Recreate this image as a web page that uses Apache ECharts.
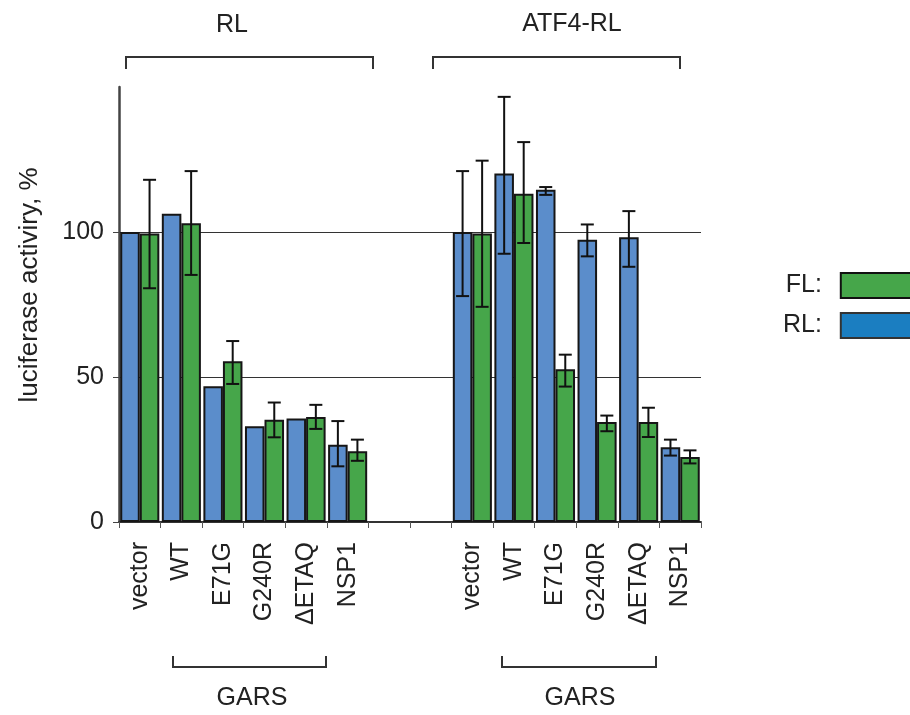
<!DOCTYPE html>
<html>
<head>
<meta charset="utf-8">
<script src="https://cdn.jsdelivr.net/npm/echarts@6/dist/echarts.min.js"></script>
<style>html,body{margin:0;padding:0;background:#fff;}#c{width:910px;height:715px;}</style>
</head>
<body>
<div id="c"></div>
<script>
// categories (two gap slots between the RL and ATF4-RL groups)
const categories = ['vector','WT','E71G','G240R','ΔETAQ','NSP1','','','vector','WT','E71G','G240R','ΔETAQ','NSP1'];
// mean values, %
const rlMean = [100, 106.3, 46.8, 33.0, 35.7, 26.6, null, null, 100, 120.2, 114.6, 97.3, 98.2, 25.8];
const flMean = [99.5, 103.0, 55.4, 35.3, 36.2, 24.4, null, null, 99.5, 113.2, 52.7, 34.5, 34.5, 22.4];
// error bar ends (low, high); null = no error bar drawn
const rlErrLow  = [null, null, null, null, null, 19.2, null, null, 77.9, 92.5, 112.8, 91.6, 88.0, 22.9];
const rlErrHigh = [null, null, null, null, null, 34.8, null, null, 121.0, 146.6, 115.5, 102.6, 107.2, 28.4];
const flErrLow  = [80.6, 85.2, 47.6, 29.2, 32.1, 21.1, null, null, 74.2, 96.2, 46.7, 31.3, 29.3, 20.2];
const flErrHigh = [118.0, 121.0, 62.4, 41.2, 40.4, 28.4, null, null, 124.6, 131.0, 57.7, 36.7, 39.4, 24.7];
const yTicks = [0, 50, 100];

const FONT = "'Liberation Sans', Arial, Helvetica, sans-serif";
const TXT = '#222';
const BLUE = '#5B8DCB', GREEN = '#46A64A', LEG_BLUE = '#1B7EC1';
const CAT_GAP = 0.06;

function errData(lo, hi) {
  const out = [];
  lo.forEach((v, i) => { if (v != null && hi[i] != null) out.push([i, v, hi[i]]); });
  return out;
}
function errRender(side) {
  return function (params, api) {
    const i = api.value(0);
    const lo = api.coord([i, api.value(1)]);
    const hi = api.coord([i, api.value(2)]);
    const cw = api.size([1, 0])[0];
    const bw = cw * (1 - CAT_GAP) / 2;
    const x = lo[0] + side * bw / 2;
    const cap = 6.5;
    const st = { stroke: '#111', lineWidth: 2 };
    return { type: 'group', children: [
      { type: 'line', shape: { x1: x, y1: lo[1], x2: x, y2: hi[1] }, style: st },
      { type: 'line', shape: { x1: x - cap, y1: hi[1], x2: x + cap, y2: hi[1] }, style: st },
      { type: 'line', shape: { x1: x - cap, y1: lo[1], x2: x + cap, y2: lo[1] }, style: st }
    ]};
  };
}

const chart = echarts.init(document.getElementById('c'), null, { renderer: 'canvas' });
const lineSt = { stroke: '#333', lineWidth: 2, fill: null };
chart.setOption({
  animation: false,
  backgroundColor: '#fff',
  textStyle: { fontFamily: FONT },
  grid: { left: 119, top: 87, right: 209, bottom: 193, containLabel: false },
  legend: {
    orient: 'vertical', left: 778, top: 267, align: 'right',
    itemWidth: 90, itemHeight: 25, itemGap: 13, icon: 'rect',
    formatter: n => n + ':\u00a0\u00a0',
    textStyle: { fontSize: 25, color: TXT, fontFamily: FONT },
    data: [
      { name: 'FL', itemStyle: { color: GREEN, borderColor: '#111', borderWidth: 2 } },
      { name: 'RL', itemStyle: { color: LEG_BLUE, borderColor: '#333', borderWidth: 2 } }
    ]
  },
  xAxis: {
    type: 'category', data: categories,
    axisLine: { lineStyle: { color: '#333', width: 2 } },
    axisTick: { show: true, length: 6, lineStyle: { color: '#555', width: 1 } },
    axisLabel: { interval: 0, rotate: 90, margin: 20, fontSize: 25, color: TXT, fontFamily: FONT }
  },
  yAxis: {
    type: 'value', min: 0, max: 150, interval: 50,
    axisLine: { show: true, lineStyle: { color: '#444', width: 2.5 } },
    axisTick: { show: true, length: 6, customValues: yTicks, lineStyle: { color: '#444', width: 1 } },
    axisLabel: { customValues: yTicks, margin: 15, fontSize: 25, color: TXT, fontFamily: FONT },
    splitLine: { show: true, showMinLine: false, lineStyle: { color: '#333', width: 1 } }
  },
  series: [
    { name: 'RL', type: 'bar', data: rlMean, barGap: '0%', barCategoryGap: (CAT_GAP * 100) + '%',
      itemStyle: { color: BLUE, borderColor: '#161616', borderWidth: 2 }, z: 2 },
    { name: 'FL', type: 'bar', data: flMean, barGap: '0%', barCategoryGap: (CAT_GAP * 100) + '%',
      itemStyle: { color: GREEN, borderColor: '#161616', borderWidth: 2 }, z: 2 },
    { type: 'custom', data: errData(rlErrLow, rlErrHigh), renderItem: errRender(-1), z: 5,
      encode: { x: 0, y: [1, 2] }, silent: true },
    { type: 'custom', data: errData(flErrLow, flErrHigh), renderItem: errRender(1), z: 5,
      encode: { x: 0, y: [1, 2] }, silent: true }
  ],
  graphic: [
    { type: 'text', x: 30, y: 285, rotation: Math.PI / 2,
      style: { text: 'luciferase activiry, %', font: '26px ' + FONT, fill: TXT, align: 'center', verticalAlign: 'middle' } },
    { type: 'text', x: 232, y: 25, style: { text: 'RL', font: '25px ' + FONT, fill: TXT, align: 'center', verticalAlign: 'middle' } },
    { type: 'text', x: 572, y: 24, style: { text: 'ATF4-RL', font: '25px ' + FONT, fill: TXT, align: 'center', verticalAlign: 'middle' } },
    { type: 'polyline', shape: { points: [[126, 69], [126, 57], [373, 57], [373, 69]] }, style: lineSt },
    { type: 'polyline', shape: { points: [[433, 69], [433, 57], [680, 57], [680, 69]] }, style: lineSt },
    { type: 'polyline', shape: { points: [[173, 656], [173, 667], [326, 667], [326, 656]] }, style: lineSt },
    { type: 'polyline', shape: { points: [[502, 656], [502, 667], [656, 667], [656, 656]] }, style: lineSt },
    { type: 'text', x: 252, y: 698, style: { text: 'GARS', font: '25px ' + FONT, fill: TXT, align: 'center', verticalAlign: 'middle' } },
    { type: 'text', x: 580, y: 698, style: { text: 'GARS', font: '25px ' + FONT, fill: TXT, align: 'center', verticalAlign: 'middle' } }
  ]
});
</script>
</body>
</html>
